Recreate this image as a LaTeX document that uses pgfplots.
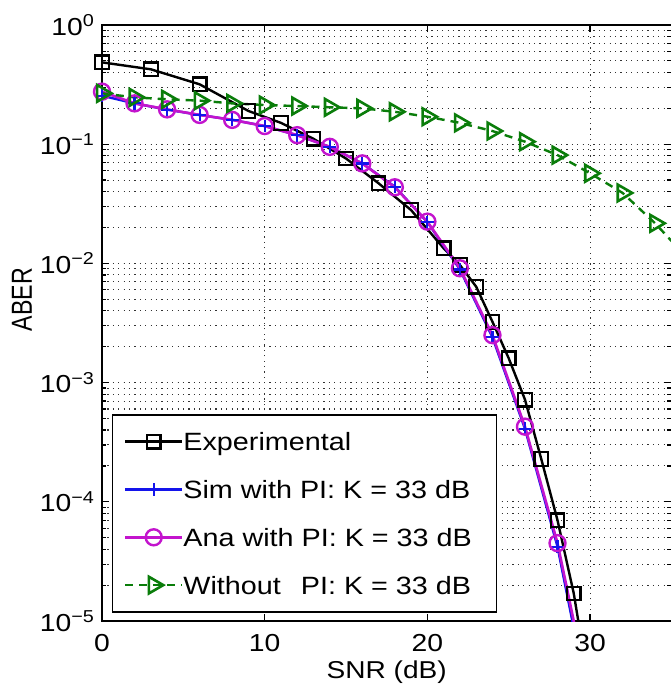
\documentclass[border=0pt]{standalone}
\usepackage{fontspec}
\setmainfont[FakeStretch=1.15]{Liberation Sans}
\newfontfamily\plainfont{Liberation Sans}
\usepackage{graphicx}
\usepackage{pgfplots}
\pgfplotsset{compat=1.18}
\definecolor{mygreen}{RGB}{10,125,10}
\definecolor{mymag}{RGB}{195,20,205}
\definecolor{myblue}{RGB}{20,20,235}
\begin{document}
\begin{tikzpicture}
\begin{semilogyaxis}[
  scale only axis, width=284.7pt, height=298pt,
  xmin=0, xmax=35, ymin=1e-5, ymax=1,
  /pgf/number format/assume math mode=true,
  xtick={0,10,20,30},
  xticklabels={0,10,20,30},
  ytick={1e-5,1e-4,1e-3,1e-2,1e-1,1},
  yticklabels={10\textsuperscript{−5},10\textsuperscript{−4},10\textsuperscript{−3},10\textsuperscript{−2},10\textsuperscript{−1},10\textsuperscript{0}},
  grid=both,
  major grid style={dash pattern=on 0.6pt off 2.1pt, black!80, line width=0.55pt},
  minor grid style={dash pattern=on 0.6pt off 2.1pt, black!80, line width=0.55pt},
  tick align=inside, major tick length=3.5pt, minor tick length=2pt,
  axis line style={line width=0.7pt},
  every tick/.style={black, line width=0.6pt},
  tick label style={font=\fontsize{12.3}{14}\selectfont},
  xticklabel style={yshift=-3pt},
  xlabel={SNR (dB)},
  xlabel style={font=\fontsize{12.2}{14}\selectfont, at={(axis description cs:0.5,0)}, anchor=north, inner sep=0pt, yshift=-19.5pt},
  ylabel={\plainfont\fontsize{14.5}{16}\selectfont\scalebox{0.8}[1]{ABER}},
  ylabel style={at={(axis description cs:-0.1405,0.539)}, anchor=center},
  legend cell align=left,
  legend style={at={(axis description cs:0.0176,0.347)}, anchor=north west, draw=black, line width=0.7pt, fill=white,
    inner xsep=5.65pt, inner ysep=8.9pt, row sep=14.9pt,
    font=\fontsize{12.5}{15}\selectfont,
    nodes={inner sep=0pt, text height=9pt, text depth=0pt},
    /tikz/every even column/.append style={column sep=3.35pt}},
  legend image code/.code={\draw[mark repeat=2,mark phase=2] plot coordinates {(0pt,0pt)(14.2pt,0pt)(28.4pt,0pt)};},
]
\addplot[black, line width=1.2pt, mark=square, mark size=3.4pt, mark options={solid, line width=1.1pt}] coordinates {
(0,0.486) (3,0.425) (6,0.318) (9,0.19) (11,0.151) (13,0.111) (15,0.0758) (17,0.047)
(19,0.028) (21,0.0134) (22,0.0097) (23,0.00638) (24,0.00324) (25,0.0016) (26,7.2e-4)
(27,2.29e-4) (28,7.0e-5) (29,1.7e-5) (30,2.5e-6)};
\addlegendentry{\makebox[151pt][l]{Experimental}}
\addplot[myblue, line width=1.2pt, mark=+, mark size=3.2pt, mark options={solid, line width=1.1pt}] coordinates {
(0,0.255) (2,0.22) (4,0.195) (6,0.176) (8,0.16) (10,0.142) (12,0.119) (14,0.095) (16,0.069)
(18,0.044) (20,0.0222) (22,0.0089) (24,0.0024) (26,4.1e-4) (28,4.2e-5) (30,1.8e-6)};
\addlegendentry{\makebox[151pt][l]{Sim with PI: K = 33 dB}}
\addplot[mymag, line width=1.3pt, mark=o, mark size=4pt, mark options={solid, line width=1.2pt}] coordinates {
(0,0.276) (2,0.22) (4,0.196) (6,0.176) (8,0.16) (10,0.142) (12,0.119) (14,0.095) (16,0.069)
(18,0.0435) (20,0.0224) (22,0.0091) (24,0.0025) (26,4.27e-4) (28,4.5e-5) (30,2.2e-6)};
\addlegendentry{\makebox[151pt][l]{Ana with PI: K = 33 dB}}
\addplot[mygreen, line width=1.2pt, dash pattern=on 4pt off 3pt, mark=triangle, mark size=4.8pt, mark options={solid, rotate=-90, line width=1.3pt}] coordinates {
(0,0.267) (2,0.247) (4,0.238) (6,0.232) (8,0.22) (10,0.213) (12,0.209) (14,0.204) (16,0.2)
(18,0.187) (20,0.17) (22,0.151) (24,0.129) (26,0.105) (28,0.081) (30,0.057) (32,0.039) (34,0.0217) (36,0.011)};
\addlegendentry{\makebox[151pt][l]{Without\hspace{10pt}PI: K = 33 dB}}
\end{semilogyaxis}
\pgfresetboundingbox
\path (-51pt,-34pt) rectangle (284pt,310.5pt);
\end{tikzpicture}
\end{document}
